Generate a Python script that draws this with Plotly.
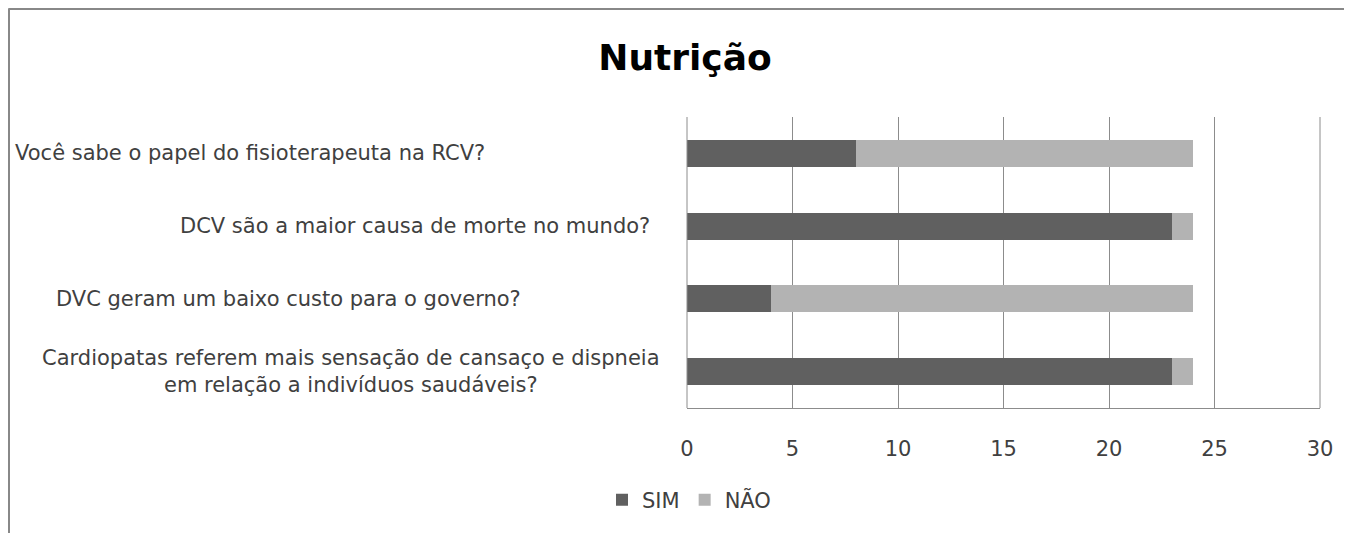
import plotly.graph_objects as go

categories = [
    "Cardiopatas referem mais sensação de cansaço e dispneia<br>em relação a indivíduos saudáveis?",
    "DVC geram um baixo custo para o governo?",
    "DCV são a maior causa de morte no mundo?",
    "Você sabe o papel do fisioterapeuta na RCV?",
]
sim = [23, 4, 23, 8]
nao = [1, 20, 1, 16]
x_ticks = [0, 5, 10, 15, 20, 25, 30]

# layout constants (pixels in figure space)
W, H = 1352, 533
ML, MR, MT, MB = 679, 40, 109, 133
PW, PH = W - ML - MR, H - MT - MB
label_center_px = [343, 280, 407, 242]  # horizontal centre of each category label


def px_x(p):
    return (p - ML) / PW


def px_y(p):
    return 1 - (p - MT) / PH


FONT = "DejaVu Sans"
TXT = "#404040"
GRID = "#8c8c8c"

fig = go.Figure()
fig.add_trace(go.Bar(y=categories, x=sim, name="SIM", orientation="h",
                     marker=dict(color="#606060", line=dict(width=0))))
fig.add_trace(go.Bar(y=categories, x=nao, name="NÃO", orientation="h",
                     marker=dict(color="#b3b3b3", line=dict(width=0))))

for c, cx in zip(categories, label_center_px):
    fig.add_annotation(x=px_x(cx), y=c, xref="paper", yref="y", text=c,
                       showarrow=False, xanchor="center", yanchor="middle",
                       align="center", font=dict(family=FONT, size=21, color=TXT))

fig.update_layout(
    width=W, height=H,
    margin=dict(l=ML, r=MR, t=MT, b=MB),
    paper_bgcolor="white", plot_bgcolor="white",
    barmode="stack", bargap=0.63,
    title=dict(text="<b>Nutrição</b>", x=677 / W, xanchor="center",
               y=1 - 49 / H, yanchor="middle",
               font=dict(family=FONT, size=36, color="black")),
    showlegend=True,
    legend=dict(orientation="h", x=px_x(681), xanchor="center", y=px_y(492), yanchor="middle",
                font=dict(family=FONT, size=21, color=TXT), traceorder="normal",
                itemwidth=30),
    xaxis=dict(range=[0, 30], tickvals=x_ticks, showgrid=True, gridcolor=GRID,
               gridwidth=1, zeroline=False, showline=True, linecolor=GRID,
               tickfont=dict(family=FONT, size=21, color=TXT), ticks="",
               ticklabelstandoff=22),
    yaxis=dict(showticklabels=False, showgrid=False, zeroline=False, showline=False,
               ticks="", categoryorder="array", categoryarray=categories),
)
# outer chart border (top and left)
fig.add_shape(type="line", xref="paper", yref="paper", x0=px_x(0.5), x1=px_x(W + 10),
              y0=px_y(1), y1=px_y(1), line=dict(color="#888888", width=2))
fig.add_shape(type="line", xref="paper", yref="paper", x0=px_x(1), x1=px_x(1),
              y0=px_y(H + 10), y1=px_y(0.5), line=dict(color="#888888", width=2))
# category axis line at 0 and plot-area edge gridline at the right
for xe in (0, 1):
    fig.add_shape(type="line", xref="paper", yref="paper", x0=xe, x1=xe, y0=0, y1=1,
                  line=dict(color=GRID, width=1))

fig.write_html("out.html")
